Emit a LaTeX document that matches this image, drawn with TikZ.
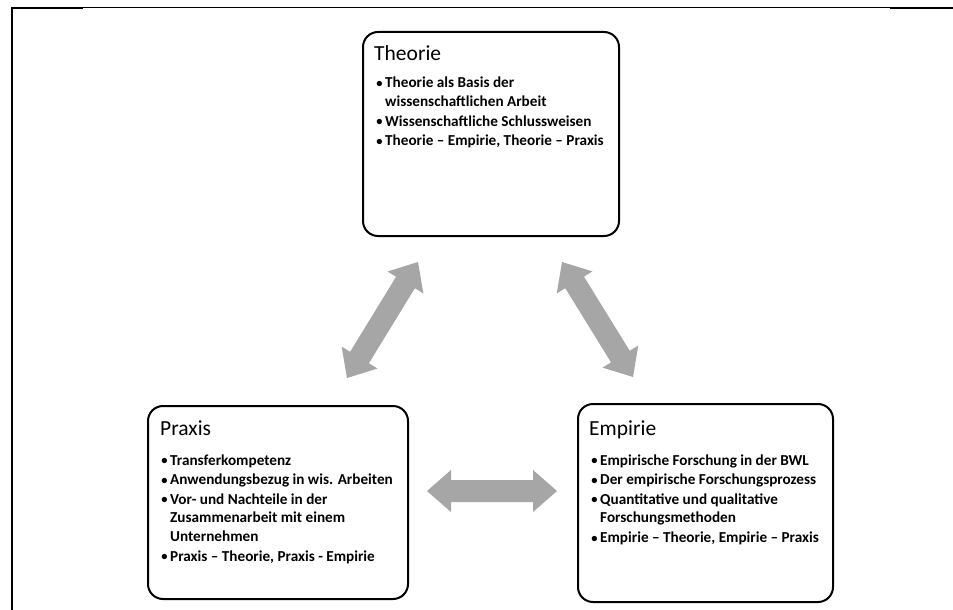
\documentclass[tikz,border=0pt]{standalone}
\usepackage{fontspec}
\setmainfont{Carlito}
\usetikzlibrary{calc}

\definecolor{arrowfill}{HTML}{A6A6A6}

% bullet item with hanging indent
\newcommand\bulmark{\raisebox{0.4pt}{\fontsize{12.5}{12.5}\selectfont\textbullet}}
\newcommand\bul[1]{\par\noindent\hangindent=8pt\hangafter=1\makebox[8pt][l]{\hspace{-0.8pt}\bulmark}#1}
\newcommand\itemlist[1]{\begin{minipage}[t]{250pt}\raggedright\setlength\parskip{1pt}#1\end{minipage}}

% geometry of the block arrows
\newcommand\faHead{24pt}
\newcommand\faHeadHalf{21pt}
\newcommand\faShaftHalf{11pt}
% double-headed block arrow between two named points
\newcommand\fatarrow[2]{%
  \coordinate (fa-a) at ($(#1)!\faHead!(#2)$);
  \coordinate (fa-b) at ($(#2)!\faHead!(#1)$);
  \fill[arrowfill] (#1)
    -- ($(fa-a)!\faHeadHalf!90:(#2)$) -- ($(fa-a)!\faShaftHalf!90:(#2)$)
    -- ($(fa-b)!\faShaftHalf!-90:(#1)$) -- ($(fa-b)!\faHeadHalf!-90:(#1)$)
    -- (#2)
    -- ($(fa-b)!\faHeadHalf!90:(#1)$) -- ($(fa-b)!\faShaftHalf!90:(#1)$)
    -- ($(fa-a)!\faShaftHalf!-90:(#2)$) -- ($(fa-a)!\faHeadHalf!-90:(#2)$)
    -- cycle;}

\tikzset{
  box/.style={draw=black, line width=2pt, rounded corners=15pt, inner sep=0pt,
    anchor=north west, fill=white},
  boxtitle/.style={anchor=base west, inner sep=0pt, font=\fontsize{21.5}{25}\selectfont},
  boxitems/.style={anchor=base west, inner sep=0pt, font=\bfseries\fontsize{15.2}{18.6}\selectfont},
}

\begin{document}
\begin{tikzpicture}[x=1pt, y=-1pt]
  \useasboundingbox (0,0) rectangle (953,610);
  \fill[white] (0,0) rectangle (953,610);

  % page frame
  \draw[line width=1pt] (83,7.5) -- (890,7.5);
  \draw[line width=2pt] (11,8) -- (83,8);
  \draw[line width=2pt] (890,8) -- (953,8);
  \draw[line width=2pt] (12,7) -- (12,610);

  % boxes
  \node[box, minimum width=256pt, minimum height=204pt] (theorie) at (362,31) {};
  \node[box, minimum width=260pt, minimum height=193pt] (praxis) at (147,405) {};
  \node[box, minimum width=255pt, minimum height=198pt] (empirie) at (577,403) {};

  % titles
  \node[boxtitle] (theorie-t) at ($(theorie.north west)+(12,29)$) {Theorie};
  \node[boxtitle] (praxis-t) at ($(praxis.north west)+(13,30)$) {Praxis};
  \node[boxtitle] (empirie-t) at ($(empirie.north west)+(12,32)$) {Empirie};

  % contents
  \node[boxitems] (theorie-l) at ($(theorie.north west)+(15,57)$) {\itemlist{%
    \bul{Theorie als Basis der\newline wissenschaftlichen Arbeit}
    \bul{Wissenschaftliche Schlussweisen}
    \bul{Theorie – Empirie, Theorie – Praxis}}};
  \node[boxitems] (praxis-l) at ($(praxis.north west)+(15,60)$) {\itemlist{%
    \bul{Transferkompetenz}
    \bul{Anwendungsbezug in wis. Arbeiten}
    \bul{Vor- und Nachteile in der\newline Zusammenarbeit mit einem\newline Unternehmen}
    \bul{Praxis – Theorie, Praxis - Empirie}}};
  \node[boxitems] (empirie-l) at ($(empirie.north west)+(15,62)$) {\itemlist{%
    \bul{Empirische Forschung in der BWL}
    \bul{Der empirische Forschungsprozess}
    \bul{Quantitative und qualitative\newline Forschungsmethoden}
    \bul{Empirie – Theorie, Empirie – Praxis}}};

  % arrow end points
  \coordinate (tp) at (418,262);
  \coordinate (pt) at (347,378);
  \coordinate (te) at (562,262);
  \coordinate (et) at (633,377);
  \coordinate (pe) at (427,491);
  \coordinate (ep) at (557,491);

  \fatarrow{pt}{tp}
  \fatarrow{te}{et}
  \fatarrow{pe}{ep}
\end{tikzpicture}
\end{document}
